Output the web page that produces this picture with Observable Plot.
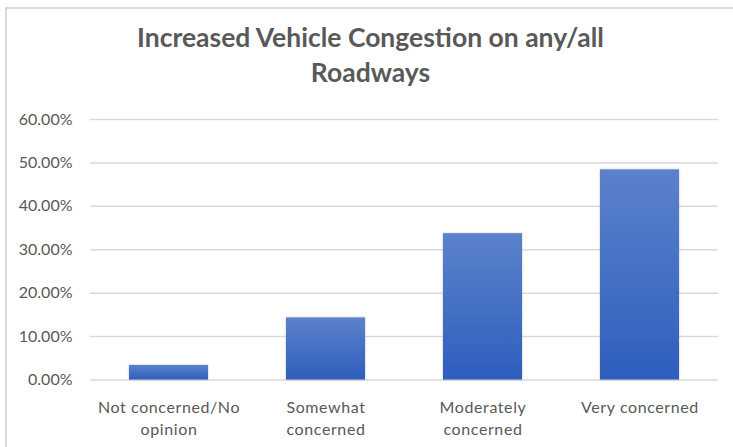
<!DOCTYPE html>
<html>
<head>
<meta charset="utf-8">
<script src="https://cdn.jsdelivr.net/npm/d3@7"></script>
<script src="https://cdn.jsdelivr.net/npm/@observablehq/plot@0.6"></script>
<style>
  html, body { margin: 0; padding: 0; background: #fff; }
  #wrap { position: relative; width: 733px; height: 447px; overflow: hidden; font-family: Lato, "Open Sans", sans-serif; }
  #frame { position: absolute; left: 5px; top: 7px; width: 760px; height: 480px; border-left: 2px solid #d9d9d9; border-top: 2px solid #d9d9d9; box-sizing: border-box; }
  #title { position: absolute; left: 0; top: 20px; width: 733px; text-align: center; font-weight: bold; font-size: 26.5px; line-height: 35px; color: #595959; margin-left: 4px; }
  #chart { position: absolute; left: 0; top: 100px; }
  #chart g[aria-label="x-axis tick label"] text { letter-spacing: 0.6px; }
</style>
</head>
<body>
<div id="wrap">
  <div id="frame"></div>
  <div id="title">Increased Vehicle Congestion on any/all<br>Roadways</div>
  <div id="chart"></div>
</div>
<script>
const categories = ["Not concerned/No\nopinion", "Somewhat\nconcerned", "Moderately\nconcerned", "Very concerned"];
const values = [0.0335, 0.143, 0.337, 0.484];
const yTicks = [0, 0.1, 0.2, 0.3, 0.4, 0.5, 0.6];

const data = categories.map((c, i) => ({category: c, value: values[i]}));

const gradientDefs = () => {
  const svgNS = "http://www.w3.org/2000/svg";
  const defs = document.createElementNS(svgNS, "defs");
  defs.innerHTML = `
    <linearGradient id="barGrad" x1="0" y1="0" x2="0" y2="1">
      <stop offset="0" stop-color="#5b82cb"/>
      <stop offset="1" stop-color="#2e5ebd"/>
    </linearGradient>
    <filter id="shadow" x="-10%" y="-10%" width="120%" height="120%">
      <feDropShadow dx="0" dy="0" stdDeviation="1.2" flood-color="#000" flood-opacity="0.25"/>
    </filter>`;
  return defs;
};

const chart = Plot.plot({
  width: 733,
  height: 347,
  marginLeft: 90,
  marginRight: 15,
  marginTop: 19,
  marginBottom: 67.5,
  style: {fontFamily: "Lato, 'Open Sans', sans-serif", fontSize: "16px", color: "#595959", background: "transparent"},
  x: {domain: categories, paddingInner: 0.5, paddingOuter: 0.25, label: null},
  y: {domain: [0, 0.6], label: null},
  marks: [
    gradientDefs,
    Plot.ruleY(yTicks, {stroke: "#d9d9d9", strokeWidth: 1.5}),
    Plot.barY(data, {x: "category", y: "value", fill: "url(#barGrad)",
      render: (index, scales, values, dims, context, next) => {
        const g = next(index, scales, values, dims, context);
        g.setAttribute("filter", "url(#shadow)");
        return g;
      }}),
    Plot.axisY(yTicks, {tickSize: 0, tickPadding: 18, tickFormat: d => (d * 100).toFixed(2) + "%", fill: "#595959", fontSize: 16}),
    Plot.axisX({tickSize: 0, tickPadding: 17, fill: "#595959", fontSize: 16, lineHeight: 1.4, textAnchor: "middle"})
  ]
});
document.getElementById("chart").appendChild(chart);
</script>
</body>
</html>
